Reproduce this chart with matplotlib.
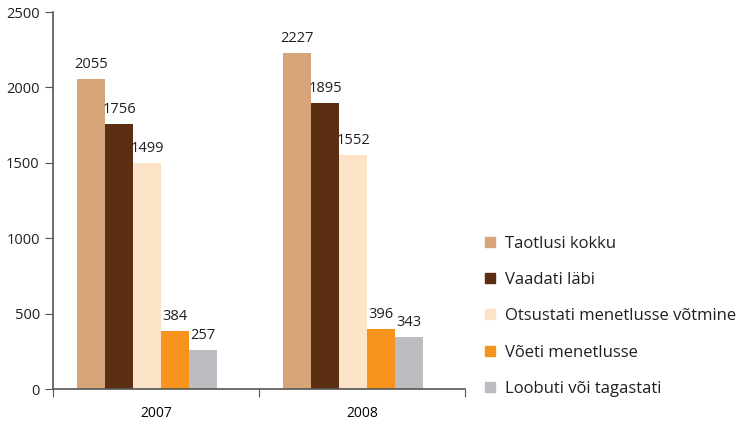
import numpy as np
import matplotlib.pyplot as plt
from matplotlib.lines import Line2D

plt.rcParams['font.family'] = ['Open Sans', 'DejaVu Sans']

# Data
years = ['2007', '2008']
series = ['Taotlusi kokku', 'Vaadati läbi', 'Otsustati menetlusse võtmine',
          'Võeti menetlusse', 'Loobuti või tagastati']
taotlusi = [2055, 2227]
vaadati = [1756, 1895]
otsustati = [1499, 1552]
voeti = [384, 396]
loobuti = [257, 343]
values = [taotlusi, vaadati, otsustati, voeti, loobuti]
colors = ['#D6A579', '#5C2E12', '#FDE3C8', '#F7941E', '#BCBDC0']

fig = plt.figure(figsize=(7.41, 4.24), dpi=100)
ax = fig.add_axes([0.0715, 0.0825, 0.556, 0.889])

x = np.arange(len(years))
w = 0.136
shift = -0.042  # groups sit a bit left of the category centre
for i, (vals, c) in enumerate(zip(values, colors)):
    bars = ax.bar(x + shift + (i - 2) * w, vals, w, color=c, label=series[i])
    ax.bar_label(bars, padding=5, fontsize=10.5, color='#231F20')

ax.set_xlim(-0.5, 1.5)
ax.set_ylim(0, 2500)
ax.set_yticks([0, 500, 1000, 1500, 2000, 2500])
ax.set_xticks([-0.5, 0.5, 1.5])
ax.set_xticklabels([])
ax.set_xticks(x, minor=True)
ax.set_xticklabels(years, minor=True)
ax.tick_params(axis='x', which='minor', length=0, pad=12)
ax.tick_params(axis='x', which='major', length=6, color='#555555')
ax.tick_params(axis='y', length=6, color='#555555')
ax.tick_params(labelsize=10.5, labelcolor='#231F20')
for s in ['top', 'right']:
    ax.spines[s].set_visible(False)
for s in ['left', 'bottom']:
    ax.spines[s].set_color('#555555')
    ax.spines[s].set_linewidth(1.2)

handles = [Line2D([], [], marker='s', linestyle='', markersize=7, color=c) for c in colors]
fig.legend(handles, series, loc='upper left', bbox_to_anchor=(0.645, 0.46),
           frameon=False, fontsize=12, labelspacing=1.22, handlelength=0.6,
           handletextpad=0.6, borderaxespad=0, labelcolor='#231F20')

fig.savefig('out.png', dpi=100)
